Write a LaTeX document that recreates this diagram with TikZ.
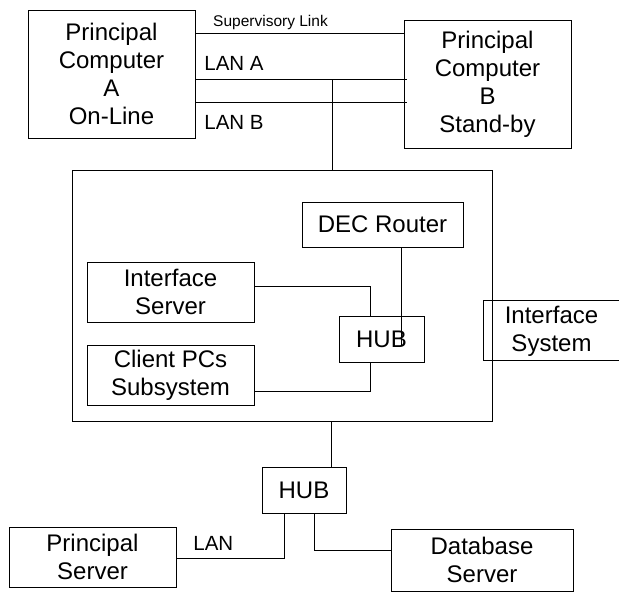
\documentclass[tikz,border=0pt]{standalone}
\usepackage{fontspec}
\setmainfont{Liberation Sans}
\begin{document}
\begin{tikzpicture}[x=1pt,y=-1pt,
  every path/.style={line width=0.8pt},
  box/.style={draw, rectangle, inner sep=0pt, align=center,
    font=\fontsize{24}{28}\selectfont},
  lbl/.style={inner sep=0pt, font=\fontsize{20.5}{24}\selectfont},
  small/.style={inner sep=0pt, font=\fontsize{15.5}{18}\selectfont}]
\useasboundingbox (0,0) rectangle (619,595);
% top computers
\node[box, minimum width=167pt, minimum height=128pt] (A) at (111.5,74) {Principal\\Computer\\A\\On-Line};
\node[box, minimum width=167pt, minimum height=128pt] (B) at (487.5,84) {Principal\\Computer\\B\\Stand-by};
% big enclosure
\node[draw, rectangle, inner sep=0pt, minimum width=420pt, minimum height=251pt] (big) at (282,295.5) {};
\node[box, minimum width=161pt, minimum height=45pt] (dec) at (382.5,224.5) {DEC Router};
\node[box, minimum width=167pt, minimum height=60pt] (is) at (170.5,292) {Interface\\Server};
\node[box, minimum width=167pt, minimum height=60pt] (cpc) at (170.5,375) {Client PCs\\Subsystem};
\node[box, minimum width=85pt, minimum height=46pt] (hubA) at (381.5,339) {HUB};
% interface system (cut by the right edge)
\node[box, draw=none, minimum width=135pt, minimum height=60pt] (isys) at (551.5,331) {Interface\\System};
\draw (619,300) -- (isys.north west |- 0,300) -- (isys.south west |- 0,360) -- (619,360);
% bottom
\node[box, minimum width=84pt, minimum height=46pt] (hubB) at (304,490) {HUB};
\node[box, minimum width=167pt, minimum height=60pt] (ps) at (92.5,557) {Principal\\Server};
\node[box, minimum width=182pt, minimum height=62pt] (db) at (482,560) {Database\\Server};
% labels
\node[small] (suplbl) at (270.5,22) {Supervisory Link};
\node[lbl, anchor=west] (lanAlbl) at (204,63) {LAN A};
\node[lbl, anchor=west] (lanBlbl) at (204,122) {LAN B};
\node[lbl, anchor=west] (lanlbl) at (193,543) {LAN};
% coordinates for connectors
\coordinate (sup) at (0,33);
\coordinate (la) at (0,79);
\coordinate (lb) at (0,102);
\coordinate (tap) at (332,79);
\coordinate (down) at (331,0);
\coordinate (isj) at (370,286);
\coordinate (cpj) at (370,391);
\coordinate (decx) at (401,345);
\coordinate (psx) at (284,558);
\coordinate (dbx) at (314,550);
% connectors
\draw (A.east |- sup) -- (B.west |- sup);
\draw (A.east |- la) -- ([xshift=3pt]B.west |- la);
\draw (A.east |- lb) -- ([xshift=3pt]B.west |- lb);
\draw (tap) -- (tap |- big.north);
\draw (down |- big.south) -- (down |- hubB.north);
\draw (is.east |- isj) -- (isj) -- (isj |- hubA.north);
\draw (cpc.east |- cpj) -- (cpj) -- (cpj |- hubA.south);
\draw (decx |- dec.south) -- (decx);
\draw (psx |- hubB.south) -- (psx) -- (ps.east |- psx);
\draw (dbx |- hubB.south) -- (dbx) -- (db.west |- dbx);
\end{tikzpicture}
\end{document}
